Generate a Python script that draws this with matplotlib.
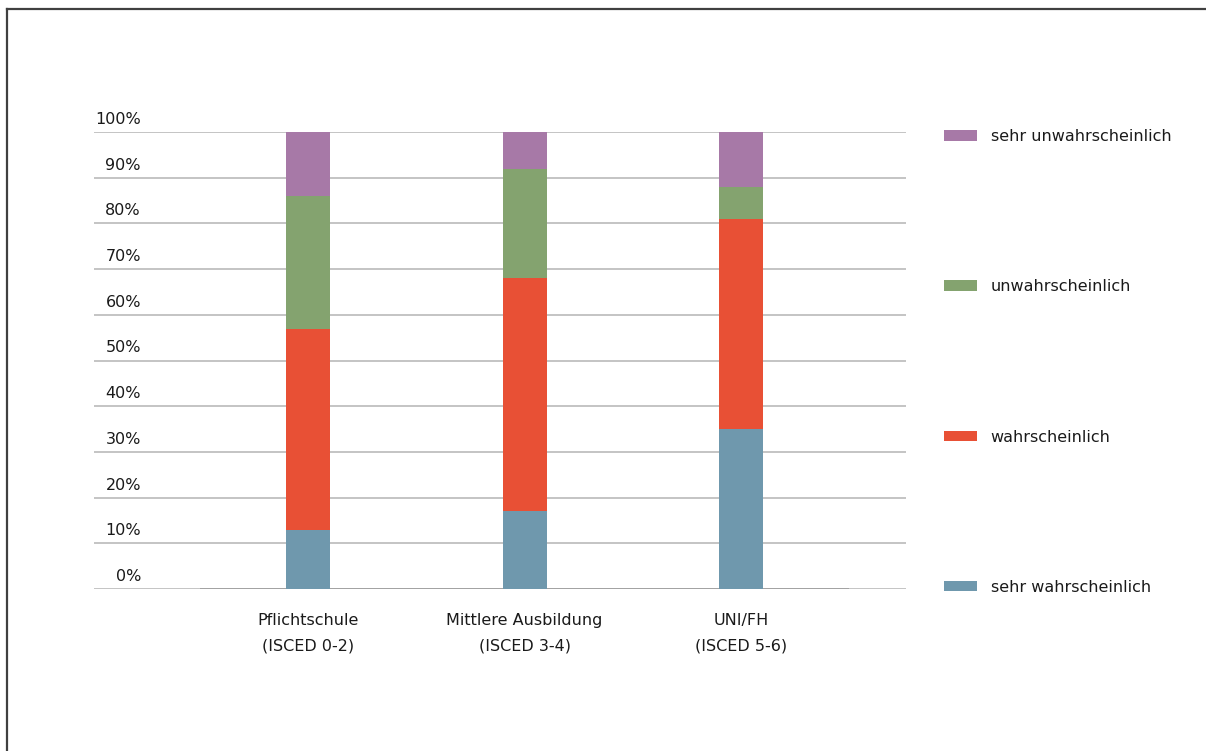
import matplotlib
matplotlib.use("Agg")
import matplotlib.pyplot as plt
from matplotlib.lines import Line2D
from matplotlib.patches import Patch
import numpy as np

plt.rcParams['font.family'] = ['DejaVu Sans']

categories = ["Pflichtschule\n(ISCED 0-2)", "Mittlere Ausbildung\n(ISCED 3-4)", "UNI/FH\n(ISCED 5-6)"]
series_names = ["sehr wahrscheinlich", "wahrscheinlich", "unwahrscheinlich", "sehr unwahrscheinlich"]
sehr_wahrscheinlich = [13, 17, 35]
wahrscheinlich = [44, 51, 46]
unwahrscheinlich = [29, 24, 7]
sehr_unwahrscheinlich = [14, 8, 12]
colors = ["#6F98AD", "#E85035", "#84A36F", "#A779A7"]
y_ticks = [0, 10, 20, 30, 40, 50, 60, 70, 80, 90, 100]
y_tick_labels = [f"{v}%" for v in y_ticks]

series = [sehr_wahrscheinlich, wahrscheinlich, unwahrscheinlich, sehr_unwahrscheinlich]
FS = 11.5

W, H = 1206, 751
fig = plt.figure(figsize=(W / 100, H / 100), dpi=100)
ax = fig.add_axes([94 / W, (H - 589) / H, (906 - 94) / W, (589 - 132) / H])

x = np.arange(len(categories))
bottom = np.zeros(len(categories))
handles = []
for name, vals, col in zip(series_names, series, colors):
    ax.bar(x, vals, bottom=bottom, width=0.203, color=col, zorder=3, label=name)
    bottom += np.array(vals)
    handles.append(Patch(facecolor=col, label=name))

# horizontal gridlines across the whole plot width
for v in y_ticks:
    ax.axhline(v, color="#BFBFBF", lw=1.3, zorder=1)
# category axis line
ax.plot([-0.5, 2.5], [0, 0], color="#A0A0A0", lw=1.3, zorder=2, solid_capstyle="butt")

ax.set_xlim(-0.99, 2.763)
ax.set_ylim(0, 100)
for s in ax.spines.values():
    s.set_visible(False)
ax.set_yticks([])
ax.set_xticks(x)
ax.set_xticklabels(categories, fontsize=FS, color="#1a1a1a", linespacing=1.82)
ax.tick_params(axis="x", length=0, pad=17.5)

# percentage labels sitting just above each gridline
for v, lab in zip(y_ticks, y_tick_labels):
    ax.annotate(lab, xy=(0, v), xycoords=("axes fraction", "data"),
                xytext=(33.8, 5.8), textcoords="offset points",
                ha="right", va="baseline", fontsize=FS, color="#1a1a1a")

leg = fig.legend(handles=handles[::-1], loc="upper left",
                 bbox_to_anchor=(944 / W, 1 - 129 / H), frameon=False,
                 fontsize=FS, handlelength=2.07, handleheight=0.62,
                 handletextpad=0.86, labelspacing=8.47, borderpad=0, borderaxespad=0)
for t in leg.get_texts():
    t.set_color("#1a1a1a")

# outer frame lines (left and top)
fig.add_artist(Line2D([7 / W, 7 / W], [0, 1 - 9 / H], color="#404040", lw=1.6,
                      transform=fig.transFigure))
fig.add_artist(Line2D([7 / W, 1], [1 - 9 / H, 1 - 9 / H], color="#404040", lw=1.6,
                      transform=fig.transFigure))

fig.savefig("out.png", dpi=100)
